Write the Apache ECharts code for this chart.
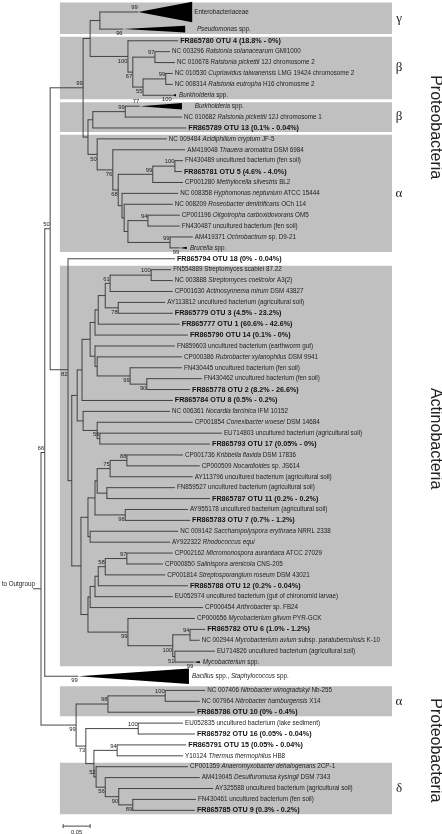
<!DOCTYPE html>
<html><head><meta charset="utf-8">
<script src="https://cdn.jsdelivr.net/npm/echarts@6/dist/echarts.min.js"></script>
<style>html,body{margin:0;padding:0;background:#fff}#c{width:442px;height:834px}</style>
</head><body><div id="c"></div>
<script>
// ================= DATA =================
// leaf labels, top to bottom (_..._ = italic part)
const leafLabels = [
 'Enterobacteriaceae','_Pseudomonas_ spp.','FR865780 OTU 4 (18.8% - 0%)',
 'NC 003296 _Ralstonia solanacearum_ GMI1000','NC 010678 _Ralstonia pickettii_ 12J chromosome 2',
 'NC 010530 _Cupriavidus taiwanensis_ LMG 19424 chromosome 2','NC 008314 _Ralstonia eutropha_ H16 chromosme 2',
 '_Burkholderia_ spp.','_Burkholderia_ spp.','NC 010682 _Ralstonia pickettii_ 12J chromosome 1',
 'FR865789 OTU 13 (0.1% - 0.04%)','NC 009484 _Acidiphilium cryptum_ JF-5','AM419048 _Thauera aromatica_ DSM 6984',
 'FN430489 uncultured bacterium (fen soil)','FR865781 OTU 5 (4.6% - 4.0%)','CP001280 _Methylocella silvestris_ BL2',
 'NC 008358 _Hyphomonas neptunium_ ATCC 15444','NC 008209 _Roseobacter denitrificans_ OCh 114',
 'CP001196 _Oligotropha carboxidovorans_ OM5','FN430487 uncultured bacterium (fen soil)',
 'AM419371 _Ochrobactrum_ sp. D9-21','_Brucella_ spp.','FR865794 OTU 18 (0% - 0.04%)',
 'FN554889 Streptomyces scabiei 87.22','NC 003888 _Streptomyces coelicolor_ A3(2)','CP001630 _Actinosynnema mirum_ DSM 43827',
 'AY113812 uncultured bacterium (agricultural soil)','FR865779 OTU 3 (4.5% - 23.2%)','FR865777 OTU 1 (60.6% - 42.6%)',
 'FR865790 OTU 14 (0.1% - 0%)','FN859603 uncultured bacterium (earthworm gut)','CP000386 _Rubrobacter xylanophilus_ DSM 9941',
 'FN430445 uncultured bacterium (fen soil)','FN430462 uncultured bacterium (fen soil)','FR865778 OTU 2 (8.2% - 26.6%)',
 'FR865784 OTU 8 (0.5% - 0.2%)','NC 006361 _Nocardia farcinica_ IFM 10152','CP001854 _Conexibacter woesei_ DSM 14684',
 'EU714803 uncultured bacterium (agricultural soil)','FR865793 OTU 17 (0.05% - 0%)','CP001736 _Kribbella flavida_ DSM 17836',
 'CP000509 _Nocardioides_ sp. JS614','AY113796 uncultured bacterium (agricultural soil)','FN859527 uncultured bacterium (agricultural soil)',
 'FR865787 OTU 11 (0.2% - 0.2%)','AY955178 uncultured bacterium (agricultural soil)','FR865783 OTU 7 (0.7% - 1.2%)',
 'NC 009142 _Saccharopolyspora erythraea_ NRRL 2338','AY922322 _Rhodococcus equi_','CP002162 _Micromonospora aurantiaca_ ATCC 27029',
 'CP000850 _Salinispora arenicola_ CNS-205','CP001814 _Streptosporangium roseum_ DSM 43021','FR865788 OTU 12 (0.2% - 0.04%)',
 'EU052974 uncultured bacterium (gut of chironomid larvae)','CP000454 _Arthrobacter_ sp. FB24','CP000656 _Mycobacterium gilvum_ PYR-GCK',
 'FR865782 OTU 6 (1.0% - 1.2%)','NC 002944 _Mycobacterium avium_ subsp. _paratuberculosis_ K-10','EU714826 uncultured bacterium (agricultural soil)',
 '_Mycobacterium_ spp.','_Bacillus_ spp., _Staphylococcus_ spp.','NC 007406 _Nitrobacter winogradskyi_ Nb-255',
 'NC 007964 _Nitrobacter hamburgensis_ X14','FR865786 OTU 10 (0% - 0.4%)','EU052835 uncultured bacterium (lake sediment)',
 'FR865792 OTU 16 (0.05% - 0.04%)','FR865791 OTU 15 (0.05% - 0.04%)','Y10124 _Thermus thermophilus_ HB8',
 'CP001359 _Anaeromyxobacter dehalogenans_ 2CP-1','AM419045 _Desulfuromusa kysingii_ DSM 7343',
 'AY325588 uncultured bacterium (agricultural soil)','FN430461 uncultured bacterium (fen soil)','FR865785 OTU 9 (0.3% - 0.2%)'
];
// distance from root (substitutions/site) at which each leaf ends
const tipDepths = [
 0.280,0.285,0.254,0.239,0.248,0.244,0.244,0.252,0.281,0.261,0.269,
 0.233,0.267,0.263,0.261,0.263,0.254,0.244,0.257,0.257,0.281,0.272,
 0.248,0.241,0.244,0.244,0.230,0.244,0.257,0.272,0.248,0.261,0.261,0.298,0.276,0.244,0.239,
 0.281,0.335,0.313,0.263,0.294,0.281,0.248,0.313,0.272,0.276,0.254,0.239,0.244,0.226,0.230,0.272,0.244,0.300,0.285,0.304,0.294,0.322,0.296,
 0.276,0.304,0.294,0.285,0.263,0.285,0.269,0.263,0.272,0.294,0.319,0.287,0.285
];
// collapsed clades: leaf index -> [node depth, max depth, clade spread (rows), bootstrap]
const collapsedClades = {
 0:[0.180,0.280,0.95,99], 1:[0.152,0.267,0.30,96], 7:[0.243,0.250,0.12,100], 8:[0.183,0.261,0.30,77],
 21:[0.257,0.270,0.10,99], 59:[0.283,0.294,0.10,99], 60:[0.069,0.274,0.72,99]
};
// leaf row weights (collapsed clades take more room)
const rowWeights = {0:2, 1:1.14, 60:1.6};
// subtrees: [node depth, bootstrap, child, child]; numbers = leaf indices
const cladeGammaBeta = [0.091, null, [0.109, null, 0, 1],
  [0.161, 100, 2, [0.170, 67, [0.211, 97, 3, 4], [0.189, 55, [0.231, 99, 5, 6], 7]]]];
const cladeBetaAlpha = [0.087, null, [0.096, null, [0.156, 99, 8, 9], 10],
  [0.104, 50, 11, [0.133, 76, 12, [0.143, 68, [0.207, 99, [0.248, 100, 13, 14], 15],
    [0.150, null, 16, [0.154, null, 17, [0.161, null, [0.198, 94, 18, 19], [0.239, 99, 20, 21]]]]]]]];
const cladeActinoUpper = [0.067, null,
  [0.076, null,
    [0.091, null,
      [0.100, null, [0.106, null, [0.119, null, [0.128, 61, [0.204, 100, 23, 24], 25], [0.143, 78, 26, 27]], 28], 29],
      [0.100, null, 30, [0.104, null, 31, [0.165, 99, 32, [0.196, 90, 33, 34]]]]],
    35],
  [0.078, null, 36, [0.104, null, 37, [0.109, 56, 38, 39]]]];
const cladeActinoLower = [0.074, null,
  [0.087, null,
    [0.100, null, [0.104, null, [0.128, 75, [0.159, 88, 40, 41], 42], [0.122, null, 43, 44]], [0.156, 96, 45, 46]],
    [0.091, null, 47, 48]],
  [0.087, null,
    [0.091, null, [0.100, null, [0.106, null, [0.119, 58, [0.159, 97, 49, 50], 51], 52], 53], 54],
    [0.161, 99, 55, [0.244, 100, [0.276, 94, 56, 57], [0.248, 51, 58, 59]]]]];
const cladeLower = [0.065, 99, [0.124, 98, [0.230, 100, 61, 62], 63],
  [0.083, 73, [0.180, 100, 64, 65],
    [0.098, null, [0.141, 94, 66, 67], [0.102, 52, 68, [0.119, 56, 69, [0.144, 90, 70, [0.170, 89, 71, 72]]]]]]];
const tree = [0, null,
  [0.007, 66,
    [0.017, 50, [0.078, 99, cladeGammaBeta, cladeBetaAlpha], [0.050, 82, 22, [0.057, null, cladeActinoUpper, cladeActinoLower]]],
    60],
  cladeLower];
// shaded groups (leaf index ranges) and their class letters
const groupRanges = [[0,1],[2,7],[8,10],[11,21],[23,59],[61,63],[68,72]];
const groupLetters = ['γ','β','β','α','','α','δ'];
// phylum labels, centred on leaf ranges
const phylumNames = ['Proteobacteria','Actinobacteria','Proteobacteria'];
const phylumRanges = [[0,21],[22,55],[61,72]];
const outgroupLabel = 'to Outgroup';
const scaleBar = 0.05;

// ================= STYLE / LAYOUT =================
const FONT = '"Liberation Sans", Arial, sans-serif';
const LINE = '#333';
const BOX = '#c0c0c0';
// bootstrap labels drawn below the branch (keyed by leaf range)
const bsBelow = new Set(['11-21','12-21','13-21','5-7','2-7','3-7','1-1','45-46','55-59','58-59','56-59','60-60',
 '61-72','64-72','69-72','70-72','71-72','22-59','33-34','32-34','26-27','7-7','21-21','59-59']);

const rows = []; {let r = 0; for (let i = 0; i < leafLabels.length; i++) { if (i > 0) r += ((rowWeights[i-1]||1) + (rowWeights[i]||1)) / 2; rows.push(r); }}
const W = i => rowWeights[i] || 1;

const branches = [], tris = [], boots = [];
function layout(node, parentX) {
  if (typeof node === 'number') {
    const c = collapsedClades[node];
    const x = c ? c[0] : tipDepths[node];
    branches.push([parentX, x, rows[node], null, null]);
    if (c) { tris.push([c[0], c[1], rows[node], c[2]]); boots.push([c[0], rows[node], c[3], node + '-' + node]); }
    return {y: rows[node], first: node, last: node};
  }
  const x = node[0], bs = node[1];
  const res = node.slice(2).map(k => layout(k, x));
  const yTop = res[0].y, yBot = res[res.length-1].y, y = (yTop + yBot) / 2;
  branches.push([parentX, x, y, yTop, yBot]);
  const first = res[0].first, last = res[res.length-1].last;
  if (bs != null) boots.push([x, y, bs, first + '-' + last]);
  return {y, first, last};
}
const ROOT_STUB = -0.015;
const rootInfo = layout(tree, ROOT_STUB);

const boxRows = groupRanges.map(([a, b]) => [rows[a] - W(a)/2, rows[b] + W(b)/2]);
const BOX_X0 = 0.035, BOX_X1 = 0.650, LETTER_X = 0.663, PHYLUM_X = 0.730;

function richLabel(s) {
  if (/OTU/.test(s)) return '{b|' + s + '}';
  let t = '';
  s.split('_').forEach((p, i) => { if (p.length) t += '{' + (i % 2 ? 'i' : 'n') + '|' + p + '}'; });
  return t;
}
const richStyles = {
  n: {fontSize: 6.3, fontFamily: FONT, fill: '#222'},
  i: {fontSize: 6.3, fontFamily: FONT, fontStyle: 'italic', fill: '#222'},
  b: {fontSize: 7.2, fontFamily: FONT, fontWeight: 'bold', fill: '#111'}
};

const chart = echarts.init(document.getElementById('c'), null, {renderer: 'canvas'});
const option = {
  animation: false,
  grid: {left: 0, right: 0, top: 0, bottom: 0},
  xAxis: {type: 'value', min: -41/540, max: 401/540, show: false},
  yAxis: {type: 'value', inverse: true, min: -12/10.9, max: 822/10.9, show: false},
  series: [
    { // shaded groups
      type: 'custom', clip: false, z: 1,
      data: boxRows.map(r => [BOX_X0, r[0]]),
      renderItem: (p, api) => {
        const r = boxRows[p.dataIndex];
        const a = api.coord([BOX_X0, r[0]]), b = api.coord([BOX_X1, r[1]]);
        const g = [{type: 'rect', shape: {x: a[0], y: a[1] + 1.4, width: b[0] - a[0], height: b[1] - a[1] - 2.8}, style: {fill: BOX}}];
        const L = groupLetters[p.dataIndex];
        if (L) { const c = api.coord([LETTER_X, (r[0] + r[1]) / 2]);
          g.push({type: 'text', x: c[0], y: c[1], style: {text: L, font: '13px "Liberation Serif", serif', fill: '#222', align: 'center', verticalAlign: 'middle'}}); }
        return {type: 'group', children: g};
      }
    },
    { // branches
      type: 'custom', clip: false, z: 2,
      data: branches.map(d => [d[1], d[2]]),
      renderItem: (p, api) => {
        const d = branches[p.dataIndex];
        const a = api.coord([d[0], d[2]]), b = api.coord([d[1], d[2]]);
        const st = {stroke: LINE, lineWidth: 0.9};
        const ch = [{type: 'line', shape: {x1: a[0], y1: a[1], x2: b[0], y2: b[1]}, style: st}];
        if (d[3] != null) { const t = api.coord([d[1], d[3]]), u = api.coord([d[1], d[4]]);
          ch.push({type: 'line', shape: {x1: t[0], y1: t[1] - 0.45, x2: u[0], y2: u[1] + 0.45}, style: st}); }
        return {type: 'group', children: ch};
      }
    },
    { // collapsed clades
      type: 'custom', clip: false, z: 3,
      data: tris.map(t => [t[0], t[2]]),
      renderItem: (p, api) => {
        const t = tris[p.dataIndex];
        const a = api.coord([t[0], t[2]]), b = api.coord([t[1], t[2] - t[3]]), c = api.coord([t[1], t[2] + t[3]]);
        return {type: 'polygon', shape: {points: [a, b, c]}, style: {fill: '#000'}};
      }
    },
    { // leaf labels
      type: 'custom', clip: false, z: 4,
      data: leafLabels.map((s, i) => [tipDepths[i], rows[i]]),
      renderItem: (p, api) => {
        const i = p.dataIndex, c = api.coord([tipDepths[i], rows[i]]);
        return {type: 'text', x: c[0] + 2, y: c[1], style: {text: richLabel(leafLabels[i]), rich: richStyles, align: 'left', verticalAlign: 'middle'}};
      }
    },
    { // bootstrap values
      type: 'custom', clip: false, z: 4,
      data: boots.map(b => [b[0], b[1]]),
      renderItem: (p, api) => {
        const b = boots[p.dataIndex], c = api.coord([b[0], b[1]]);
        const dy = bsBelow.has(b[3]) ? 4.6 : -4.4;
        return {type: 'text', x: c[0] - 0.5, y: c[1] + dy, style: {text: String(b[2]), font: '5.8px ' + FONT, fill: '#222', align: 'right', verticalAlign: 'middle'}};
      }
    },
    { // phylum names
      type: 'custom', clip: false, z: 4,
      data: phylumRanges.map(r => [PHYLUM_X, rows[r[0]]]),
      renderItem: (p, api) => {
        const [a, b] = phylumRanges[p.dataIndex];
        const c = api.coord([PHYLUM_X, ((rows[a] - W(a)/2) + (rows[b] + W(b)/2)) / 2]);
        return {type: 'text', x: c[0], y: c[1], rotation: -Math.PI / 2,
          style: {text: phylumNames[p.dataIndex], font: '16px ' + FONT, fill: '#222', align: 'center', verticalAlign: 'middle'}};
      }
    },
    { // root stub, outgroup label, scale bar
      type: 'custom', clip: false, z: 4,
      data: [[ROOT_STUB, rootInfo.y]],
      renderItem: (p, api) => {
        const o = api.coord([ROOT_STUB, rootInfo.y]);
        const s0 = api.coord([0.041, rows[rows.length-1] + 1.45]), s1 = api.coord([0.041 + scaleBar, rows[rows.length-1] + 1.45]);
        const st = {stroke: LINE, lineWidth: 0.9};
        return {type: 'group', children: [
          {type: 'text', x: o[0] + 2, y: o[1] - 5, style: {text: outgroupLabel, font: '6.3px ' + FONT, fill: '#222', align: 'right', verticalAlign: 'middle'}},
          {type: 'line', shape: {x1: s0[0], y1: s0[1], x2: s1[0], y2: s1[1]}, style: st},
          {type: 'line', shape: {x1: s0[0], y1: s0[1] - 2, x2: s0[0], y2: s0[1] + 2}, style: st},
          {type: 'line', shape: {x1: s1[0], y1: s1[1] - 2, x2: s1[0], y2: s1[1] + 2}, style: st},
          {type: 'text', x: (s0[0] + s1[0]) / 2, y: s0[1] + 6, style: {text: String(scaleBar), font: '5.8px ' + FONT, fill: '#222', align: 'center', verticalAlign: 'middle'}}
        ]};
      }
    }
  ]
};
chart.setOption(option);
</script></body></html>
